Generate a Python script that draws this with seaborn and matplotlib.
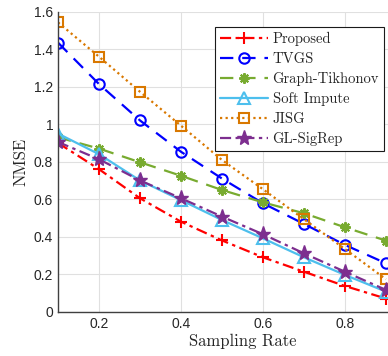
import pandas as pd
import matplotlib.pyplot as plt
import seaborn as sns

# Values.
rates = [0.1, 0.2, 0.3, 0.4, 0.5, 0.6, 0.7, 0.8, 0.9]
proposed = [0.90, 0.76, 0.605, 0.48, 0.38, 0.29, 0.213, 0.137, 0.07]
tvgs = [1.435, 1.214, 1.02, 0.853, 0.71, 0.578, 0.468, 0.356, 0.258]
tikhonov = [0.93, 0.87, 0.797, 0.725, 0.649, 0.583, 0.525, 0.45, 0.379]
soft_impute = [0.95, 0.84, 0.70, 0.595, 0.489, 0.391, 0.29, 0.196, 0.107]
jisg = [1.543, 1.36, 1.173, 0.992, 0.809, 0.653, 0.493, 0.334, 0.173]
gl_sigrep = [0.905, 0.813, 0.70, 0.605, 0.507, 0.413, 0.311, 0.213, 0.116]

names = ['Proposed', 'TVGS', 'Graph-Tikhonov', 'Soft Impute', 'JISG', 'GL-SigRep']
series = [proposed, tvgs, tikhonov, soft_impute, jisg, gl_sigrep]

xticks = [0.2, 0.4, 0.6, 0.8]
xticklabels = ['0.2', '0.4', '0.6', '0.8']
yticks = [0, 0.2, 0.4, 0.6, 0.8, 1.0, 1.2, 1.4, 1.6]
yticklabels = ['0', '0.2', '0.4', '0.6', '0.8', '1', '1.2', '1.4', '1.6']

df = pd.DataFrame({'Sampling Rate': rates * len(names),
                   'NMSE': [v for s in series for v in s],
                   'Method': [n for n in names for _ in rates]})

sns.set_style('whitegrid')

# style of each curve (matlab-ish)
purple = (0.49, 0.18, 0.56)
styles = {
    'Proposed': dict(color=(1, 0, 0), ls=(0, (5, 2, 1.5, 2)), marker='+', ms=8, mfc='none', mew=1.5),
    'TVGS': dict(color=(0, 0, 1), ls=(0, (6, 4)), marker='o', ms=7.5, mfc='none', mew=1.5),
    'Graph-Tikhonov': dict(color=(0.47, 0.67, 0.19), ls=(0, (6, 4)), marker=(8, 2, 0), ms=7.5, mfc='none', mew=1.5),
    'Soft Impute': dict(color=(0.30, 0.75, 0.93), ls='-', marker='^', ms=8, mfc='none', mew=1.5),
    'JISG': dict(color=(0.85, 0.47, 0.0), ls=(0, (1, 1.5)), marker='s', ms=6.5, mfc='none', mew=1.5),
    'GL-SigRep': dict(color=purple, ls=(0, (5, 2, 1.5, 2)), marker='*', ms=11, mfc=purple, mew=1),
}

fig = plt.figure(figsize=(3.88, 3.56), dpi=100)
ax = fig.add_axes([58 / 388, 44.3 / 356, 369 / 388, 300 / 356])

for name in names:
    st = styles[name]
    sns.lineplot(df[df['Method'] == name], x='Sampling Rate', y='NMSE', ax=ax,
                 label=name, color=st['color'], linestyle=st['ls'], linewidth=1.6,
                 marker=st['marker'], markersize=st['ms'], markerfacecolor=st['mfc'],
                 markeredgecolor=st['color'], markeredgewidth=st['mew'])

ax.set_xlim(0.1, 1.0)
ax.set_ylim(0, 1.6)
ax.set_xticks(xticks)
ax.set_xticklabels(xticklabels, family='Liberation Sans', fontsize=10, color='0.15')
ax.set_yticks(yticks)
ax.set_yticklabels(yticklabels, family='Liberation Sans', fontsize=10, color='0.15')
ax.tick_params(direction='in', length=4, color='0.25', width=0.8)
ax.grid(True, color='0.88', linewidth=0.8)
for side in ['top', 'right']:
    ax.spines[side].set_visible(False)
for side in ['left', 'bottom']:
    ax.spines[side].set_color('0.25')
    ax.spines[side].set_linewidth(1)

ax.set_xlabel('Sampling Rate', family='cmr10', fontsize=12, labelpad=2)
ax.set_ylabel('NMSE', family='cmr10', fontsize=12, labelpad=4)

leg = ax.legend(loc='upper right', bbox_to_anchor=(384 / 388, 1 - 27 / 356),
                bbox_transform=fig.transFigure, prop={'family': 'cmr10', 'size': 10.5},
                frameon=True, fancybox=False, edgecolor='0.1', framealpha=1,
                handlelength=3.3, handletextpad=0.3, labelspacing=0.42,
                borderpad=0.35, borderaxespad=0)
leg.get_frame().set_linewidth(0.8)

fig.savefig('out.png', dpi=100)
